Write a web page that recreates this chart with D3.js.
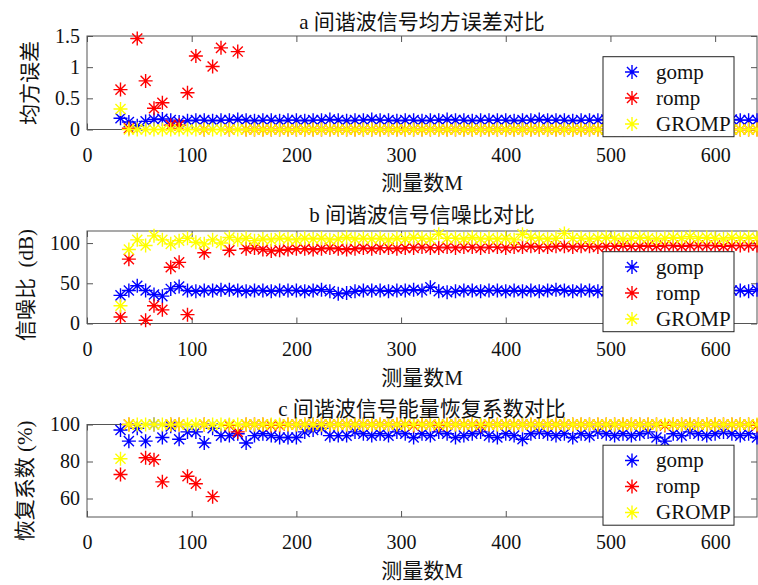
<!DOCTYPE html>
<html>
<head>
<meta charset="utf-8">
<script src="https://cdn.jsdelivr.net/npm/d3@7/dist/d3.min.js"></script>
<style>
  body { margin: 0; background: #fff; }
  svg { display: block; font-family: "Liberation Serif", "Noto Sans CJK SC", serif; }
  .box { fill: none; stroke: #555; stroke-width: 1; }
  .axis line { stroke: #555; }
  .axis text { fill: #111; }
  .label { fill: #111; font-size: 21px; }
  .legendBox { fill: #fff; stroke: #222; stroke-width: 1; }
</style>
</head>
<body>
<svg id="chart" width="758" height="585"></svg>
<script>
let svg = d3.select("#chart");

// measurement counts M (x values)
let measureM = [
  32, 40, 48, 56, 64, 72, 80, 88, 96, 104,
  112, 120, 128, 136, 144, 152, 160, 168, 176, 184,
  192, 200, 208, 216, 224, 232, 240, 248, 256, 264,
  272, 280, 288, 296, 304, 312, 320, 328, 336, 344,
  352, 360, 368, 376, 384, 392, 400, 408, 416, 424,
  432, 440, 448, 456, 464, 472, 480, 488, 496, 504,
  512, 520, 528, 536, 544, 552, 560, 568, 576, 584,
  592, 600, 608, 616, 624, 632, 640
];

let xTicks = [0, 100, 200, 300, 400, 500, 600];
let seriesNames = ["gomp", "romp", "GROMP"];

// a: mean square error
let gompMSE = [
  0.18, 0.12, 0.06, 0.13, 0.16, 0.17, 0.15, 0.12, 0.14, 0.15,
  0.15, 0.14, 0.15, 0.15, 0.16, 0.15, 0.14, 0.15, 0.15, 0.14,
  0.15, 0.15, 0.14, 0.15, 0.15, 0.16, 0.15, 0.14, 0.15, 0.15,
  0.16, 0.15, 0.15, 0.14, 0.15, 0.15, 0.14, 0.15, 0.15, 0.16,
  0.15, 0.15, 0.14, 0.15, 0.15, 0.15, 0.15, 0.14, 0.15, 0.15,
  0.16, 0.15, 0.15, 0.15, 0.14, 0.15, 0.15, 0.15, 0.16, 0.15,
  0.15, 0.14, 0.15, 0.15, 0.15, 0.15, 0.16, 0.15, 0.15, 0.14,
  0.15, 0.15, 0.15, 0.16, 0.15, 0.15, 0.15
];
let rompMSE = [
  0.64, 0.02, 1.46, 0.78, 0.34, 0.43, 0.07, 0.07, 0.59, 1.18,
  0, 1.01, 1.31, 0, 1.25, 0, 0, 0, 0, 0,
  0, 0, 0, 0, 0, 0, 0, 0, 0, 0,
  0, 0, 0, 0, 0, 0, 0, 0, 0, 0,
  0, 0, 0, 0, 0, 0, 0, 0, 0, 0,
  0, 0, 0, 0, 0, 0, 0, 0, 0, 0,
  0, 0, 0, 0, 0, 0, 0, 0, 0, 0,
  0, 0, 0, 0, 0, 0, 0
];
let gromMSE = [
  0.33, 0, 0, 0, 0, 0, 0, 0, 0, 0,
  0, 0, 0, 0, 0, 0, 0, 0, 0, 0,
  0, 0, 0, 0, 0, 0, 0, 0, 0, 0,
  0, 0, 0, 0, 0, 0, 0, 0, 0, 0,
  0, 0, 0, 0, 0, 0, 0, 0, 0, 0,
  0, 0, 0, 0, 0, 0, 0, 0, 0, 0,
  0, 0, 0, 0, 0, 0, 0, 0, 0, 0,
  0, 0, 0, 0, 0, 0, 0
];

// b: signal to noise ratio (dB)
let gompSNR = [
  35, 41, 47, 41, 36, 34, 43, 46, 41, 40,
  41, 41, 42, 42, 41, 40, 41, 41, 40, 41,
  41, 41, 40, 41, 42, 40, 37, 38, 40, 41,
  41, 41, 40, 41, 41, 42, 41, 45, 40, 39,
  40, 41, 41, 40, 41, 41, 40, 41, 40, 41,
  40, 41, 42, 41, 40, 41, 41, 40, 40, 41,
  41, 40, 41, 40, 41, 42, 41, 40, 41, 40,
  41, 41, 40, 41, 41, 40, 42
];
let rompSNR = [
  8, 80, -12, 4, 22, 17, 70, 76, 11, -12,
  88, -12, -12, 91, -12, 93, 94, 92, 90, 91,
  92, 93, 93, 92, 93, 94, 93, 92, 93, 94,
  93, 94, 94, 93, 94, 94, 95, 94, 94, 95,
  94, 95, 95, 94, 95, 95, 94, 95, 95, 96,
  95, 95, 96, 96, 95, 96, 96, 95, 96, 96,
  97, 96, 96, 97, 96, 97, 97, 96, 97, 97,
  97, 97, 96, 97, 97, 97, 97
];
let gromSNR = [
  22, 92, 104, 97, 109, 104, 99, 103, 106, 101,
  99, 104, 100, 107, 104, 106, 103, 105, 104, 106,
  105, 104, 106, 105, 106, 104, 105, 107, 105, 106,
  105, 106, 104, 106, 105, 107, 106, 105, 111, 106,
  106, 105, 107, 105, 106, 105, 106, 104, 111, 107,
  106, 105, 106, 112, 106, 106, 105, 106, 107, 106,
  105, 106, 107, 106, 105, 106, 107, 106, 108, 106,
  107, 106, 105, 107, 106, 107, 106
];

// c: energy recovery coefficient (%)
let gompRC = [
  97, 91, 98, 91, 100, 93, 99, 92, 96, 96,
  90, 98, 94, 94, 95, 90, 94, 95, 94, 93,
  93, 93, 96, 97, 98, 94, 94, 94, 96, 95,
  94, 95, 94, 96, 95, 93, 95, 94, 96, 95,
  93, 94, 95, 96, 94, 93, 95, 94, 92, 95,
  96, 95, 94, 95, 93, 95, 94, 96, 95, 94,
  95, 94, 95, 96, 93, 91, 95, 94, 96, 95,
  94, 95, 96, 95, 94, 95, 93
];
let rompRC = [
  73, 100, 45, 82, 81, 69, 100, 100, 72, 68,
  100, 61, 40, 99.5, 96, 100, 100, 100, 99.5, 99.5,
  100, 100, 100, 100, 100, 100, 100, 100, 100, 100,
  100, 100, 100, 100, 100, 99.5, 100, 100, 99.5, 100,
  100, 100, 100, 99.5, 100, 100, 100, 100, 100, 100,
  100, 100, 100, 100, 100, 100, 100, 100, 100, 100,
  100, 100, 100, 100, 100, 99.5, 100, 100, 100, 100,
  100, 100, 100, 100, 100, 100, 99.5
];
let gromRC = [
  81.5, 100, 100, 100, 100, 100, 100, 100, 100, 100,
  100, 100, 100, 100, 100, 100, 100, 100, 100, 100,
  100, 100, 100, 100, 100, 100, 100, 100, 100, 100,
  100, 100, 100, 100, 100, 100, 100, 100, 100, 100,
  100, 100, 100, 100, 100, 100, 100, 100, 100, 100,
  100, 100, 100, 100, 100, 100, 100, 100, 100, 100,
  100, 100, 100, 100, 100, 100, 100, 100, 100, 100,
  100, 100, 100, 100, 100, 100, 100
];

const colors = ["#0000ff", "#ff0000", "#ffff00"];
const markerR = 7;

// asterisk marker like matlab '*'
let d7 = markerR * 0.72;
let starPath = `M${-markerR},0L${markerR},0M0,${-markerR}L0,${markerR}` +
  `M${-d7},${-d7}L${d7},${d7}M${-d7},${d7}L${d7},${-d7}`;

let x = d3.scaleLinear().domain([0, 640]).range([87, 757]);

let panels = [
  {
    title: "a 间谐波信号均方误差对比", ylabel: "均方误差",
    series: [gompMSE, rompMSE, gromMSE],
    yDomain: [0, 1.5], yTicks: [0, 0.5, 1, 1.5], yFormat: d3.format("~g"),
    top: 36, bottom: 129.5, titleY: 29, xlabelY: 190, ylabelX: 30, ylabelY: 83
  },
  {
    title: "b 间谐波信号信噪比对比", ylabel: "信噪比\u2002(dB)",
    series: [gompSNR, rompSNR, gromSNR],
    yDomain: [0, 115], yTicks: [0, 50, 100], yFormat: d3.format("d"),
    top: 231, bottom: 323.5, titleY: 222, xlabelY: 385, ylabelX: 26, ylabelY: 285
  },
  {
    title: "c 间谐波信号能量恢复系数对比", ylabel: "恢复系数 (%)",
    series: [gompRC, rompRC, gromRC],
    yDomain: [50, 100], yTicks: [60, 80, 100], yFormat: d3.format("d"),
    top: 424.5, bottom: 517, titleY: 416, xlabelY: 578, ylabelX: 25, ylabelY: 481
  }
];

panels.forEach(function (p) {
  let y = d3.scaleLinear().domain(p.yDomain).range([p.bottom, p.top]);
  let g = svg.append("g");
  let x0 = x.range()[0], x1 = x.range()[1];

  // ticks on all four sides, pointing in
  g.append("g").attr("class", "axis")
    .attr("transform", `translate(0,${p.bottom})`)
    .call(d3.axisBottom(x).tickValues(xTicks).tickSizeInner(-6).tickSizeOuter(0).tickPadding(18));
  g.append("g").attr("class", "axis")
    .attr("transform", `translate(0,${p.top})`)
    .call(d3.axisTop(x).tickValues(xTicks).tickSizeInner(-6).tickSizeOuter(0).tickFormat(""));
  g.append("g").attr("class", "axis")
    .attr("transform", `translate(${x0},0)`)
    .call(d3.axisLeft(y).tickValues(p.yTicks).tickFormat(p.yFormat).tickSizeInner(-6).tickSizeOuter(0).tickPadding(7));
  g.append("g").attr("class", "axis")
    .attr("transform", `translate(${x1},0)`)
    .call(d3.axisRight(y).tickValues(p.yTicks).tickSizeInner(-6).tickSizeOuter(0).tickFormat(""));

  g.selectAll(".axis").attr("font-family", null).attr("font-size", 20);
  g.selectAll(".axis .domain").remove();

  g.append("rect")
    .attr("class", "box")
    .attr("x", x0).attr("y", p.top)
    .attr("width", x1 - x0).attr("height", p.bottom - p.top);

  // markers, only points inside the y limits
  p.series.forEach(function (values, si) {
    let pts = measureM.map((m, i) => [m, values[i]])
      .filter(d => d[1] >= p.yDomain[0] && d[1] <= p.yDomain[1]);
    g.append("g")
      .selectAll("path")
      .data(pts)
      .join("path")
      .attr("d", starPath)
      .attr("transform", d => `translate(${x(d[0])},${y(d[1])})`)
      .attr("fill", "none")
      .attr("stroke", colors[si])
      .attr("stroke-width", 1.4);
  });

  g.append("text")
    .attr("class", "label")
    .attr("x", (x0 + x1) / 2).attr("y", p.titleY)
    .attr("text-anchor", "middle")
    .text(p.title);

  g.append("text")
    .attr("class", "label")
    .attr("x", (x0 + x1) / 2).attr("y", p.xlabelY)
    .attr("text-anchor", "middle")
    .text("测量数M");

  g.append("text")
    .attr("class", "label")
    .attr("transform", `translate(${p.ylabelX},${p.ylabelY}) rotate(-90)`)
    .attr("text-anchor", "middle")
    .attr("dominant-baseline", "central")
    .text(p.ylabel);

  // legend
  let lg = g.append("g").attr("transform", `translate(603,${p.top + 20.7})`);
  lg.append("rect").attr("class", "legendBox")
    .attr("width", 131).attr("height", 80);
  seriesNames.forEach(function (name, i) {
    let cy = 15.3 + i * 26;
    lg.append("path")
      .attr("d", starPath)
      .attr("transform", `translate(29,${cy})`)
      .attr("fill", "none")
      .attr("stroke", colors[i])
      .attr("stroke-width", 1.4);
    lg.append("text")
      .attr("x", 53).attr("y", cy + 7)
      .attr("font-size", 21)
      .attr("fill", "#111")
      .text(name);
  });
});
</script>
</body>
</html>
